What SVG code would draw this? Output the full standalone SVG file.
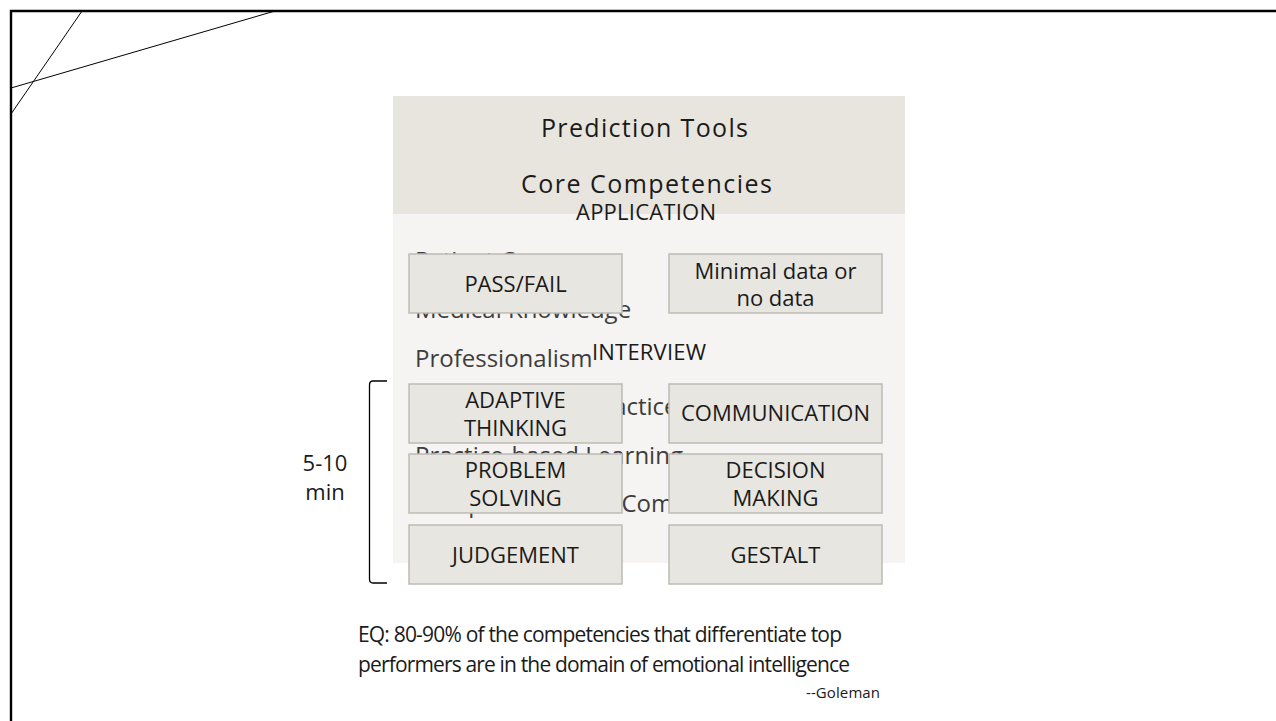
<svg xmlns="http://www.w3.org/2000/svg" width="1276" height="721" viewBox="0 0 1276 721">
<style>
  .frame{fill:none;stroke:#000;stroke-width:2.4}
  .diag{fill:none;stroke:#000;stroke-width:1}
  .box{fill:#e8e6e0;stroke:#bdbbb5;stroke-width:1.5}
  .lbl{font-family:"Open Sans","Liberation Sans",sans-serif;font-size:22px;fill:#1a1a1a;text-anchor:middle}
  .list{font-family:"Open Sans","Liberation Sans",sans-serif;font-size:24px;fill:#3d3d3d}
  .head{font-family:"Open Sans","Liberation Sans",sans-serif;font-size:25px;fill:#1a1a1a}
  .sec{font-family:"Open Sans","Liberation Sans",sans-serif;font-size:22px;fill:#1a1a1a}
  .note{font-family:"Open Sans","Liberation Sans",sans-serif;font-size:21px;fill:#1a1a1a}
</style>
<rect width="1276" height="721" fill="#ffffff"/>
<g id="frame">
  <path class="frame" d="M11,721 L11,11 L1276,11"/>
  <line class="diag" x1="82" y1="11" x2="11" y2="114"/>
  <line class="diag" x1="275" y1="11" x2="11" y2="88"/>
</g>
<g id="panel">
  <rect x="393" y="96" width="512" height="118" fill="#e8e5df"/>
  <rect x="393" y="214" width="512" height="349" fill="#f5f4f2"/>
  <text class="head" x="541" y="137" textLength="207" lengthAdjust="spacing">Prediction Tools</text>
  <text class="head" x="521" y="193" textLength="251" lengthAdjust="spacing">Core Competencies</text>
  <g id="competency-list">
    <text class="list" x="415" y="269">Patient Care</text>
    <text class="list" x="415" y="318">Medical Knowledge</text>
    <text class="list" x="415" y="367">Professionalism</text>
    <text class="list" x="415" y="415">Systems-based Practice</text>
    <text class="list" x="415" y="464">Practice-based Learning</text>
    <text class="list" x="415" y="512">Interpersonal and Communication Skills</text>
  </g>
  <text class="sec" x="576" y="220" textLength="140" lengthAdjust="spacing">APPLICATION</text>
  <text class="sec" x="592" y="360" textLength="114" lengthAdjust="spacing">INTERVIEW</text>
</g>
<g id="node-pass-fail">
  <rect class="box" x="409" y="254" width="213" height="59"/>
  <text class="lbl" x="515.5" y="292">PASS/FAIL</text>
</g>
<g id="node-minimal-data">
  <rect class="box" x="669" y="254" width="213" height="59"/>
  <text class="lbl" x="775.5" y="279">Minimal data or</text>
  <text class="lbl" x="775.5" y="306">no data</text>
</g>
<g id="node-adaptive-thinking">
  <rect class="box" x="409" y="384" width="213" height="59"/>
  <text class="lbl" x="515.5" y="408">ADAPTIVE</text>
  <text class="lbl" x="515.5" y="436">THINKING</text>
</g>
<g id="node-communication">
  <rect class="box" x="669" y="384" width="213" height="59"/>
  <text class="lbl" x="775.5" y="421">COMMUNICATION</text>
</g>
<g id="node-problem-solving">
  <rect class="box" x="409" y="454" width="213" height="59"/>
  <text class="lbl" x="515.5" y="478">PROBLEM</text>
  <text class="lbl" x="515.5" y="506">SOLVING</text>
</g>
<g id="node-decision-making">
  <rect class="box" x="669" y="454" width="213" height="59"/>
  <text class="lbl" x="775.5" y="478">DECISION</text>
  <text class="lbl" x="775.5" y="506">MAKING</text>
</g>
<g id="node-judgement">
  <rect class="box" x="409" y="525" width="213" height="59"/>
  <text class="lbl" x="515.5" y="563">JUDGEMENT</text>
</g>
<g id="node-gestalt">
  <rect class="box" x="669" y="525" width="213" height="59"/>
  <text class="lbl" x="775.5" y="563">GESTALT</text>
</g>
<g id="bracket">
  <path d="M387,381 L373,381 Q369.5,381 369.5,385 L369.5,579 Q369.5,583 373,583 L387,583" fill="none" stroke="#000" stroke-width="1.3"/>
  <text class="lbl" x="325" y="471">5-10</text>
  <text class="lbl" x="325" y="500">min</text>
</g>
<g id="quote">
  <text class="note" x="358" y="642" textLength="484" lengthAdjust="spacing">EQ: 80-90% of the competencies that differentiate top</text>
  <text class="note" x="358" y="672" textLength="492" lengthAdjust="spacing">performers are in the domain of emotional intelligence</text>
  <text class="note" x="806" y="698" style="font-size:15px" textLength="74" lengthAdjust="spacing">--Goleman</text>
</g>
</svg>
